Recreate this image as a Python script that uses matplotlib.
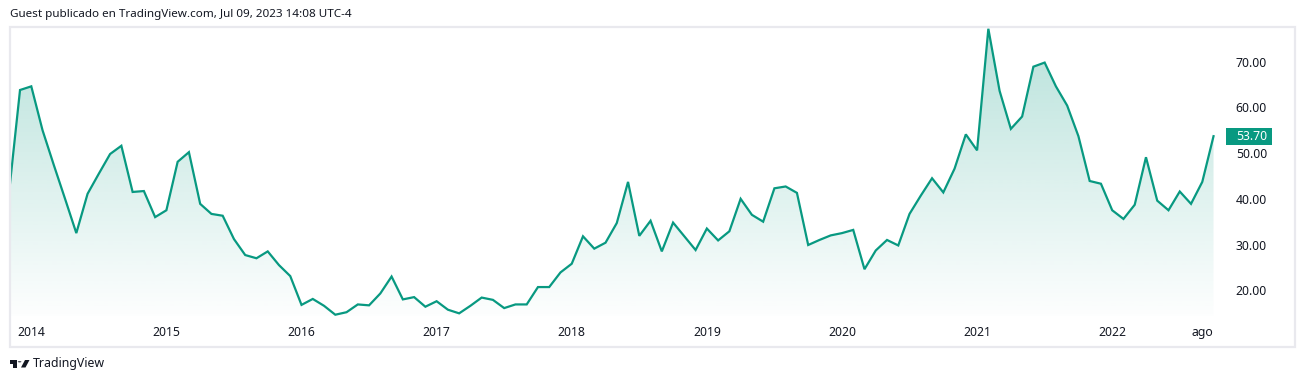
import numpy as np
import matplotlib.pyplot as plt
from matplotlib.patches import Rectangle, Circle, Polygon
from matplotlib.transforms import blended_transform_factory

plt.rcParams['font.family'] = ['Noto Sans', 'DejaVu Sans']

# monthly closes (first one sits just left of the frame)
values = [40.8, 63.8, 64.6, 55.0, 47.4, 40.0, 32.5, 41.1, 45.5, 49.8,
          51.6, 41.5, 41.7, 36.0, 37.5, 48.1, 50.2, 38.9, 36.7, 36.3,
          31.2, 27.7, 27.0, 28.5, 25.5, 23.1, 16.8, 18.1, 16.6, 14.65,
          15.2, 16.9, 16.7, 19.3, 23.0, 18.0, 18.5, 16.4, 17.6, 15.75,
          14.95, 16.6, 18.4, 17.9, 16.1, 16.9, 16.9, 20.7, 20.7, 23.9,
          25.8, 31.8, 29.1, 30.4, 34.7, 43.7, 31.9, 35.2, 28.5, 34.8,
          31.8, 28.8, 33.5, 30.9, 32.9, 40.0, 36.5, 35.0, 42.3, 42.7,
          41.3, 29.9, 31.0, 32.0, 32.5, 33.2, 24.6, 28.7, 31.0, 29.8,
          36.7, 40.7, 44.5, 41.4, 46.6, 54.1, 50.6, 77.2, 63.6, 55.3,
          58.0, 68.9, 69.8, 64.6, 60.4, 53.7, 43.9, 43.3, 37.5, 35.6,
          38.7, 49.1, 39.6, 37.5, 41.6, 38.9, 43.7, 53.7]

tick_idx = [2, 14, 26, 38, 50, 62, 74, 86, 98, 106]
tick_labels = ['2014', '2015', '2016', '2017', '2018', '2019', '2020', '2021', '2022', 'ago']
price_ticks = [20, 30, 40, 50, 60, 70]

green = '#089981'
text_col = '#131722'
W, H = 1304, 382

fig = plt.figure(figsize=(W / 100, H / 100), dpi=100)

def fx(px):
    return px / W

def fy(py):
    return 1 - py / H

ax = fig.add_axes([fx(10), fy(316), fx(1205), 290 / H])
x = np.arange(len(values))
y = np.array(values)

ax.set_xlim(0.11, 107.13)
ax.set_ylim(14.37, 77.8)

ax.plot(x, y, color=green, lw=1.6, solid_joinstyle='miter', zorder=3)

# gradient area under the line
poly = ax.fill_between(x, y, ax.get_ylim()[0], color='none', lw=0)
grad = np.linspace(0.0, 1.0, 256).reshape(-1, 1)
rgba = np.zeros((256, 1, 4))
rgba[..., 0] = 8 / 255
rgba[..., 1] = 153 / 255
rgba[..., 2] = 129 / 255
rgba[..., 3] = 0.01 + 0.28 * grad
xl, yl = ax.get_xlim(), ax.get_ylim()
im = ax.imshow(rgba, extent=[xl[0], xl[1], yl[0], yl[1]], origin='lower',
               aspect='auto', zorder=2, interpolation='bilinear')
im.set_clip_path(poly.get_paths()[0], transform=ax.transData)
ax.set_xlim(xl)
ax.set_ylim(yl)

for s in ax.spines.values():
    s.set_visible(False)

ax.set_xticks(tick_idx)
ax.set_xticklabels(tick_labels)
ax.tick_params(axis='x', length=0, pad=7, labelsize=8.8, labelcolor=text_col)

ax.yaxis.tick_right()
ax.set_yticks(price_ticks)
ax.set_yticklabels(['%.2f' % v for v in price_ticks])
ax.tick_params(axis='y', length=0, pad=15, labelsize=8.8, labelcolor=text_col)

# last price tag
bt = blended_transform_factory(fig.transFigure, ax.transData)
ax.add_patch(Rectangle((fx(1226), values[-1] - 1.85), fx(46), 3.7, transform=bt,
                       facecolor=green, edgecolor='none', clip_on=False, zorder=5))
ax.text(fx(1236), values[-1], '%.2f' % values[-1], transform=bt, color='white',
        fontsize=8.8, fontweight='bold', ha='left', va='center', zorder=6)

# frame
fig.add_artist(Rectangle((fx(10), fy(347)), fx(1285), 320 / H, transform=fig.transFigure,
                         facecolor='none', edgecolor='#e9e9ee', lw=1.6))

fig.text(fx(10), fy(14), 'Guest publicado en TradingView.com, Jul 09, 2023 14:08 UTC-4',
         ha='left', va='center', fontsize=8.4, color=text_col)

# TradingView logo
tf = fig.transFigure
fig.add_artist(Polygon([(fx(10), fy(360)), (fx(17), fy(360)), (fx(17), fy(367.5)),
                        (fx(13.5), fy(367.5)), (fx(13.5), fy(363.5)), (fx(10), fy(363.5))],
                       closed=True, transform=tf, facecolor=text_col, edgecolor='none'))
fig.add_artist(Circle((fx(19.6), fy(361.8)), fx(1.8), transform=tf,
                      facecolor=text_col, edgecolor='none'))
fig.add_artist(Polygon([(fx(25), fy(360)), (fx(29.5), fy(360)), (fx(25.5), fy(367.5)),
                        (fx(21), fy(367.5))],
                       closed=True, transform=tf, facecolor=text_col, edgecolor='none'))
fig.text(fx(33), fy(364), 'TradingView', ha='left', va='center', fontsize=8.9, color=text_col)

fig.savefig('out.png', dpi=100)
